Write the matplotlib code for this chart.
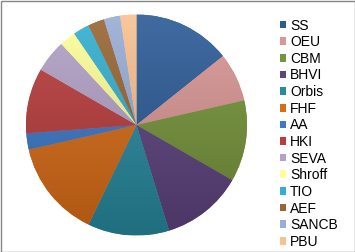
import matplotlib
matplotlib.use("Agg")
import matplotlib.pyplot as plt
import matplotlib.patches as mpatches
import numpy as np
from matplotlib.colors import to_rgb

labels = ["SS", "OEU", "CBM", "BHVI", "Orbis", "FHF", "AA", "HKI", "SEVA",
          "Shroff", "TIO", "AEF", "SANCB", "PBU"]
values = [6, 3, 5, 5, 5, 6, 1, 4, 2, 1, 1, 1, 1, 1]
colors = ["#2B5B97", "#D99694", "#76943A", "#5D437F", "#288A9F", "#D96C17",
          "#3C78C8", "#BA3C3C", "#B3A2C7", "#FFFF99", "#33B0D0", "#996633",
          "#98AED6", "#FAC090"]

plt.rcParams['font.family'] = ['Liberation Sans', 'DejaVu Sans']

W, H = 355, 252
fig = plt.figure(figsize=(W / 100, H / 100), dpi=100)
cx, cy, r = 136.5, 125.0, 110.5
ax = fig.add_axes([(cx - r) / W, (H - cy - r) / H, 2 * r / W, 2 * r / H])
wedges, _ = ax.pie(values, colors=colors, startangle=90, counterclock=False,
                   radius=1.0, wedgeprops=dict(linewidth=0))
ax.set_xlim(-1, 1)
ax.set_ylim(-1, 1)
ax.set_aspect('equal')
ax.axis('off')

# vertical shading (lighter top, darker bottom)
n = 256
t = np.linspace(0, 1, n)[:, None]  # 0 top -> 1 bottom
for w, c in zip(wedges, colors):
    rgb = np.array(to_rgb(c))
    light = rgb + (1 - rgb) * 0.10
    dark = rgb * 0.80
    img = light[None, None, :] * (1 - t[:, :, None]) + dark[None, None, :] * t[:, :, None]
    im = ax.imshow(img, extent=(-1, 1, -1, 1), origin='upper', aspect='auto',
                   interpolation='bilinear', zorder=2)
    im.set_clip_path(w)

handles = [mpatches.Rectangle((0, 0), 1, 1, facecolor=c, edgecolor='none') for c in colors]
leg = fig.legend(handles, labels, loc='upper left',
                 bbox_to_anchor=(279.5 / W, 1 - 18.5 / H),
                 frameon=False, fontsize=10, handlelength=0.47, handleheight=0.47,
                 handletextpad=0.3, labelspacing=0.19, borderpad=0, borderaxespad=0)

fig.patches.append(mpatches.Rectangle((0.5 / W, 0.5 / H), 1 - 1.0 / W, 1 - 1.0 / H,
                                      transform=fig.transFigure, fill=False,
                                      edgecolor='#868686', linewidth=1.0))
fig.savefig("out.png", dpi=100)
